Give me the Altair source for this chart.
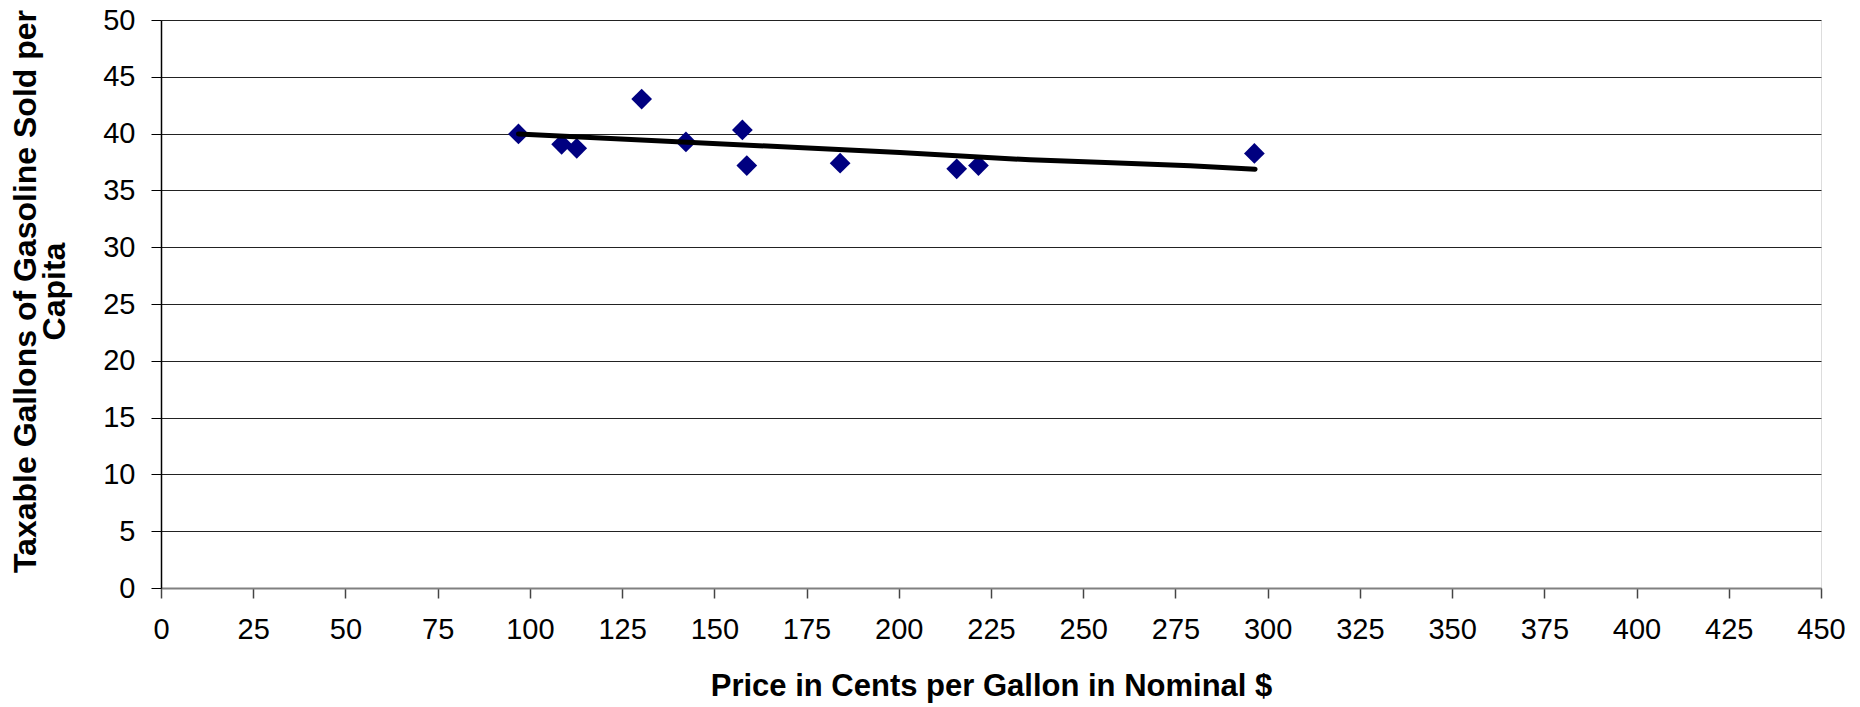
import altair as alt
import pandas as pd

# Scatter data (price in cents, gallons per capita)
price = [96.9, 108.6, 112.7, 130.3, 142.3, 157.6, 158.8, 184.1, 215.7, 221.6, 296.4]
gallons = [39.97, 39.06, 38.7, 43.04, 39.27, 40.32, 37.19, 37.40, 36.90, 37.19, 38.25]

# Trend line vertices
trend_x = [96.9, 200.3, 235.6, 256.0, 279.0, 296.6]
trend_y = [39.97, 38.33, 37.69, 37.45, 37.17, 36.87]

x_ticks = list(range(0, 451, 25))
y_ticks = list(range(0, 51, 5))

pts = pd.DataFrame({"price": price, "gallons": gallons})
trend = pd.DataFrame({"price": trend_x, "gallons": trend_y, "order": list(range(len(trend_x)))})

FONT = "Liberation Sans"

x_enc = alt.X(
    "price:Q",
    scale=alt.Scale(domain=[0, 450], nice=False, zero=True),
    axis=alt.Axis(
        values=x_ticks,
        title="Price in Cents per Gallon in Nominal $",
        grid=False,
        labelFlush=False,
        labelOverlap=False,
        labelFont=FONT,
        labelFontSize=29,
        labelColor="black",
        labelPadding=17,
        tickSize=10,
        tickColor="#444444",
        tickWidth=1.5,
        domainColor="#808080",
        domainWidth=2,
        titleFont=FONT,
        titleFontSize=31,
        titleFontWeight="bold",
        titleColor="black",
        titleY=98,
        titleBaseline="middle",
    ),
)

y_enc = alt.Y(
    "gallons:Q",
    scale=alt.Scale(domain=[0, 50], nice=False, zero=True),
    axis=alt.Axis(
        values=y_ticks,
        title=["Taxable Gallons of Gasoline Sold per", "Capita"],
        grid=True,
        gridColor="#222222",
        gridWidth=1,
        labelFont=FONT,
        labelFontSize=29,
        labelColor="black",
        labelPadding=16,
        tickSize=10,
        tickColor="black",
        domainColor="black",
        domainWidth=1.5,
        titleFont=FONT,
        titleFontSize=32,
        titleFontWeight="bold",
        titleColor="black",
        titleX=-136,
        titleY=271,
        titleAlign="center",
        titleBaseline="middle",
        titleLineHeight=29,
    ),
)

points = alt.Chart(pts).mark_point(
    shape="diamond", filled=True, size=430, color="#000080", opacity=1
).encode(x=x_enc, y=y_enc)

line = alt.Chart(trend).mark_line(
    color="black", strokeWidth=5, strokeCap="round", strokeJoin="round"
).encode(x="price:Q", y="gallons:Q", order="order:Q")

chart = (
    alt.layer(points, line)
    .properties(
        width=1660,
        height=568,
        autosize=alt.AutoSizeParams(type="none"),
        padding={"left": 153, "top": 12, "right": 31, "bottom": 118},
    )
    .configure_view(stroke="#808080", strokeWidth=2)
    .configure(background="white")
)

chart.save("out.html", embed_options={"renderer": "svg", "actions": False})
